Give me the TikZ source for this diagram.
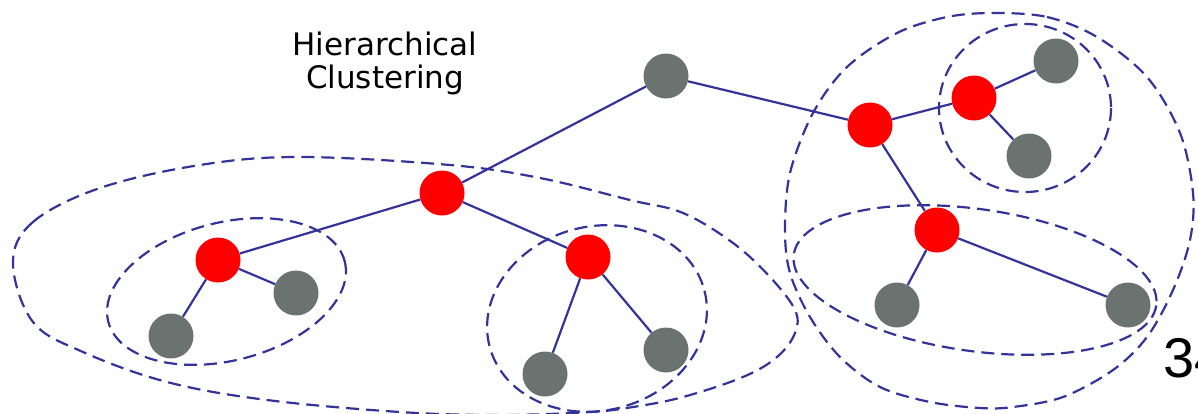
\documentclass[tikz,border=0pt]{standalone}
\usepackage{fontspec}
\setmainfont{DejaVu Sans}
\newfontfamily\pagenumfont{Liberation Sans}
\definecolor{linkblue}{RGB}{51,51,153}
\definecolor{leafgray}{RGB}{107,115,112}
\begin{document}
\begin{tikzpicture}[x=1pt,y=-1pt,
  leaf/.style={circle,fill=leafgray,minimum size=45pt,inner sep=0pt},
  merge/.style={circle,fill=red,minimum size=45pt,inner sep=0pt},
  link/.style={draw=linkblue,line width=2.2pt},
  cluster/.style={draw=linkblue,line width=2.2pt,dash pattern=on 13pt off 7pt}]
\useasboundingbox (0,0) rectangle (1198,413);

% cluster outlines
\draw[cluster] plot[smooth cycle,tension=0.6] coordinates {
  (13,263) (33,222) (100,188) (200,165) (300,157) (450,165) (540,178)
  (630,200) (683,213) (733,243) (770,277) (795,310) (795,333) (777,357)
  (743,377) (683,397) (633,407) (590,412) (500,415) (400,412) (267,400)
  (167,382) (83,352) (33,322)};
\draw[cluster] plot[smooth cycle,tension=0.55] coordinates {
  (993,13) (1047,17) (1097,37) (1147,77) (1180,133) (1193,193) (1190,240)
  (1173,290) (1147,337) (1113,370) (1063,397) (1013,407) (980,408)
  (930,402) (880,387) (840,357) (810,317) (790,273) (785,230) (790,173)
  (813,113) (847,67) (897,33) (947,17)};
\draw[cluster,rotate around={14.3:(226.5,291.5)}] (226.5,291.5) ellipse[x radius=122,y radius=69];
\draw[cluster,rotate around={14.5:(597,318.5)}] (597,318.5) ellipse[x radius=111,y radius=92];
\draw[cluster] (1025,108) ellipse[x radius=86,y radius=84];
\draw[cluster,rotate around={-8:(975,280)}] (975,280) ellipse[x radius=183,y radius=71];

% tree nodes
\node[leaf]  (root) at (666,76)  {};
\node[merge] (a)    at (442,193) {};
\node[merge] (a1)   at (218,260) {};
\node[leaf]  (a1x)  at (296,293) {};
\node[leaf]  (a1y)  at (171,336) {};
\node[merge] (a2)   at (588,257) {};
\node[leaf]  (a2x)  at (545,374) {};
\node[leaf]  (a2y)  at (666,350) {};
\node[merge] (b)    at (870,125) {};
\node[merge] (b1)   at (974,98)  {};
\node[leaf]  (b1x)  at (1056,61) {};
\node[leaf]  (b1y)  at (1029,156) {};
\node[merge] (b2)   at (937,230) {};
\node[leaf]  (b2x)  at (897,305) {};
\node[leaf]  (b2y)  at (1128,305) {};

% tree edges
\draw[link] (root) -- (a);
\draw[link] (root) -- (b);
\draw[link] (a) -- (a1);
\draw[link] (a) -- (a2);
\draw[link] (a1) -- (a1x);
\draw[link] (a1) -- (a1y);
\draw[link] (a2) -- (a2x);
\draw[link] (a2) -- (a2y);
\draw[link] (b) -- (b1);
\draw[link] (b) -- (b2);
\draw[link] (b1) -- (b1x);
\draw[link] (b1) -- (b1y);
\draw[link] (b2) -- (b2x);
\draw[link] (b2) -- (b2y);

% labels
\node[anchor=north,inner sep=0pt,align=center,font=\fontsize{31}{33}\selectfont] (title) at (385,32) {Hierarchical\\Clustering};
\node[anchor=base west,inner sep=0pt,font=\pagenumfont\fontsize{56}{60}\selectfont] (page) at (1163,377) {34};
\end{tikzpicture}
\end{document}
